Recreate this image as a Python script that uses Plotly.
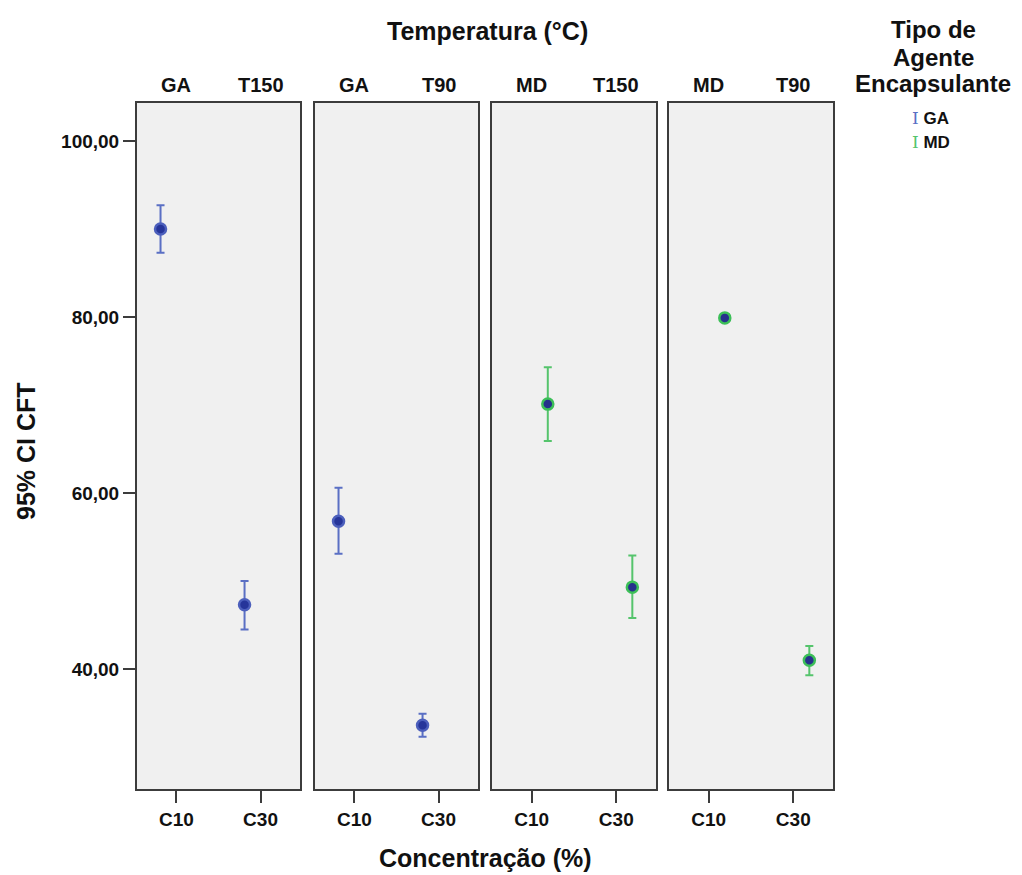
import plotly.graph_objects as go

# ---- data ----
categories = ["C10", "C30"]
panel_agents = ["GA", "GA", "MD", "MD"]
panel_temps = ["T150", "T90", "T150", "T90"]
means = [[90.0, 47.3], [56.8, 33.6], [70.1, 49.3], [79.9, 41.0]]
lowers = [[87.3, 44.5], [53.1, 32.3], [65.9, 45.8], [79.7, 39.3]]
uppers = [[92.7, 50.0], [60.6, 34.9], [74.3, 52.9], [80.1, 42.6]]
y_ticks = [40, 60, 80, 100]
y_tick_labels = ["40,00", "60,00", "80,00", "100,00"]
legend_title_lines = ["Tipo de", "Agente", "Encapsulante"]

W, H = 1022, 875
FONT = "Liberation Sans, Arial, sans-serif"
colors = {"GA": ("#5a6fc4", "#26359a", "#4c5fbc"),
          "MD": ("#55c46c", "#27318c", "#3cbf58")}  # errbar, fill, rim
offsets = {"GA": -0.19, "MD": 0.19}

panel_px = [(137, 300), (315, 478), (492, 656), (669, 833)]
top_px, bot_px = 103, 789

fig = go.Figure()
for i in range(4):
    ag = panel_agents[i]
    err_c, fill_c, rim_c = colors[ag]
    xs = [k + offsets[ag] for k in range(len(categories))]
    ax = "" if i == 0 else str(i + 1)
    fig.add_trace(go.Scatter(
        x=xs, y=means[i], mode="markers",
        xaxis="x" + ax, yaxis="y" + ax, showlegend=False,
        marker=dict(size=11, color=fill_c, line=dict(color=rim_c, width=2.5)),
        error_y=dict(type="data", symmetric=False,
                     array=[u - m for u, m in zip(uppers[i], means[i])],
                     arrayminus=[m - l for l, m in zip(lowers[i], means[i])],
                     color=err_c, thickness=2, width=4),
    ))
    x0, x1 = panel_px[i]
    common_line = dict(showline=True, linecolor="#3c3c3c", linewidth=2, mirror=True,
                       showgrid=False, zeroline=False)
    fig.layout["xaxis" + ax] = dict(
        domain=[x0 / W, x1 / W], range=[-0.47, 1.47], anchor="y" + ax,
        tickmode="array", tickvals=[0, 1],
        ticktext=["<b>%s</b>" % c for c in categories],
        ticks="outside", ticklen=12, tickwidth=2, tickcolor="#3c3c3c",
        tickfont=dict(family=FONT, size=19, color="#111"), **common_line)
    fig.layout["yaxis" + ax] = dict(
        domain=[1 - bot_px / H, 1 - top_px / H], range=[26.36, 104.32],
        anchor="x" + ax, tickmode="array", tickvals=y_ticks,
        ticktext=["<b>%s</b>" % t for t in y_tick_labels] if i == 0 else [""] * 4,
        ticks="outside" if i == 0 else "", ticklen=12, tickwidth=2,
        tickcolor="#3c3c3c", showticklabels=(i == 0),
        tickfont=dict(family=FONT, size=19, color="#111"), **common_line)
    # panel headers
    for k, txt in enumerate([ag, panel_temps[i]]):
        fig.add_annotation(x=k, y=1 - 85 / H, xref="x" + ax, yref="paper",
                           xanchor="center", yanchor="middle",
                           text="<b>%s</b>" % txt, showarrow=False,
                           font=dict(family=FONT, size=20, color="#111"))

def note(x, y, text, size, **kw):
    fig.add_annotation(x=x / W, y=1 - y / H, xref="paper", yref="paper",
                       text=text, showarrow=False,
                       xanchor=kw.pop("xanchor", "center"), yanchor="middle",
                       font=dict(family=FONT, size=size, color="#111"), **kw)

note(487, 31, "<b>Temperatura (°C)</b>", 25)
note(485, 858, "<b>Concentração (%)</b>", 25)
note(26, 451, "<b>95% CI CFT</b>", 25, textangle=-90)
for j, line in enumerate(legend_title_lines):
    note(933, 30 + 27 * j, "<b>%s</b>" % line, 24)
for j, ag in enumerate(["GA", "MD"]):
    note(910, 118 + 24 * j,
         "<span style='color:%s;font-family:DejaVu Serif'>I</span> <b>%s</b>" % (colors[ag][0], ag),
         17, xanchor="left")

fig.update_layout(width=W, height=H, margin=dict(l=0, r=0, t=0, b=0),
                  paper_bgcolor="white", plot_bgcolor="#f0f0f0")
fig.write_html("out.html")
